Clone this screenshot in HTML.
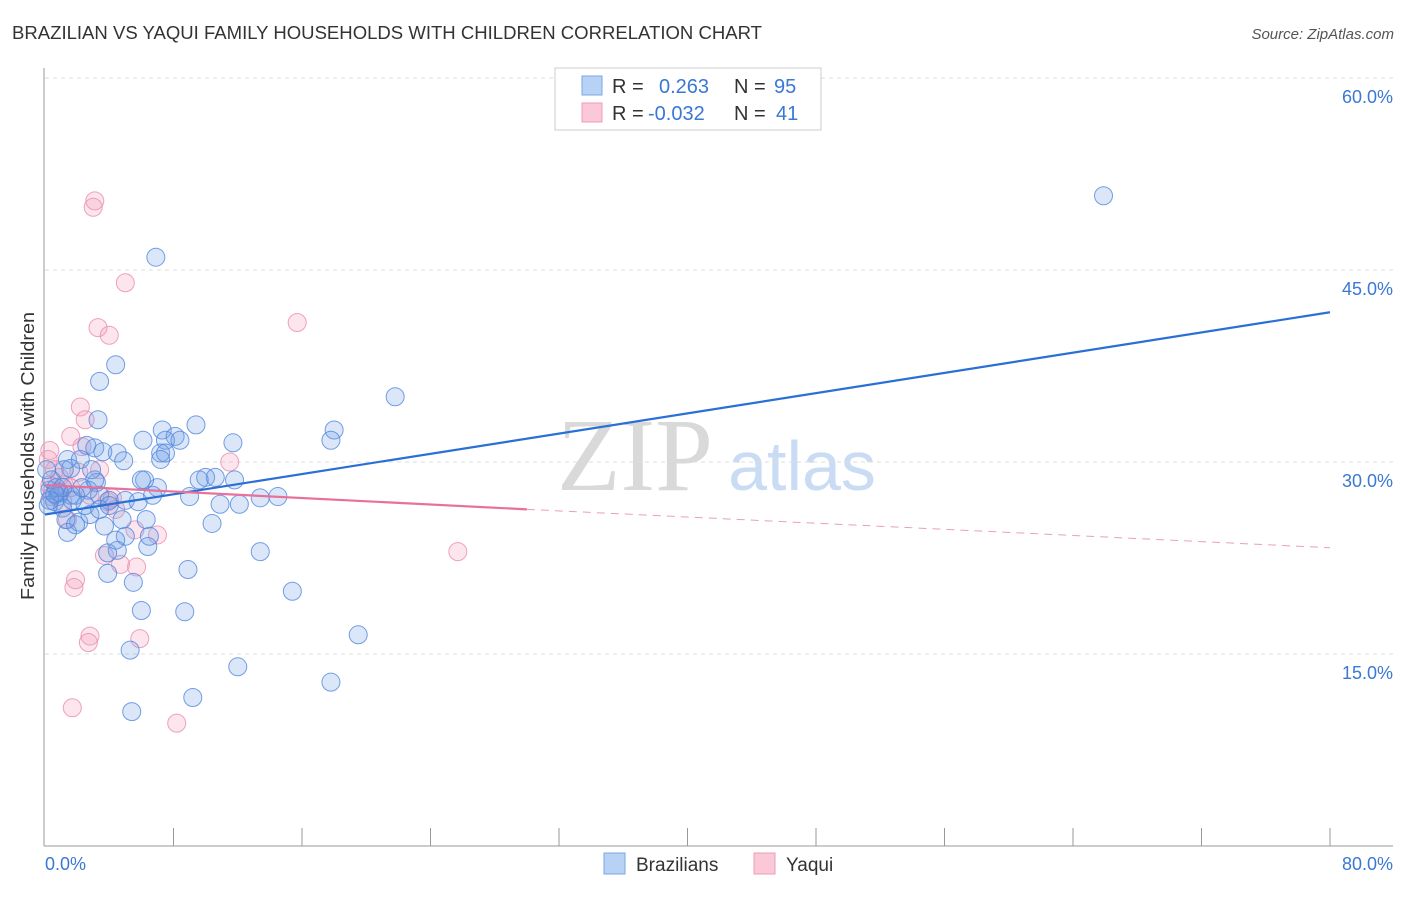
<!DOCTYPE html>
<html><head><meta charset="utf-8"><style>
body{margin:0;background:#fff;font-family:"Liberation Sans",sans-serif}
svg text{font-family:"Liberation Sans",sans-serif}
</style></head><body>
<svg id="c" width="1406" height="892">
<text x="12" y="39" font-size="18" fill="#333" textLength="750" lengthAdjust="spacingAndGlyphs">BRAZILIAN VS YAQUI FAMILY HOUSEHOLDS WITH CHILDREN CORRELATION CHART</text>
<text x="1394" y="39" font-size="15" fill="#555" font-style="italic" text-anchor="end">Source: ZipAtlas.com</text>
<text x="34" y="456" font-size="18" fill="#333" text-anchor="middle" textLength="288" lengthAdjust="spacingAndGlyphs" transform="rotate(-90 34 456)">Family Households with Children</text>
<g>
<text x="635" y="490" font-size="104" fill="#d9d9d9" text-anchor="middle" style="font-family:'Liberation Serif',serif">ZIP</text>
<text x="802" y="490" font-size="70" fill="#c9dcf3" text-anchor="middle">atlas</text>
</g>
<g id="grid"></g><g id="axes"></g><g id="marks"></g>
<g>
<rect x="555" y="68" width="266" height="62" fill="#fff" stroke="#ccc"/>
<rect x="582" y="76" width="20" height="19" fill="#b7d2f5" stroke="#7aa7e6"/>
<rect x="582" y="103" width="20" height="19" fill="#fbc8d8" stroke="#ee9bb6"/>
<text x="612" y="93" font-size="20" fill="#333">R =</text><text x="659" y="93" font-size="20" fill="#3a78d4">0.263</text>
<text x="734" y="93" font-size="20" fill="#333">N =</text><text x="774" y="93" font-size="20" fill="#3a78d4">95</text>
<text x="612" y="120" font-size="20" fill="#333">R =</text><text x="648" y="120" font-size="20" fill="#3a78d4">-0.032</text>
<text x="734" y="120" font-size="20" fill="#333">N =</text><text x="776" y="120" font-size="20" fill="#3a78d4">41</text>
</g>
<g>
<rect x="604" y="853" width="21" height="21" fill="#b7d2f5" stroke="#7aa7e6"/>
<text x="636" y="871" font-size="19" fill="#333">Brazilians</text>
<rect x="754" y="853" width="21" height="21" fill="#fbc8d8" stroke="#ee9bb6"/>
<text x="786" y="871" font-size="19" fill="#333">Yaqui</text>
</g>
</svg>
<script>
const yTicks=[15,30,45,60];
const yTickLabels=["15.0%","30.0%","45.0%","60.0%"];
const xEndLabels=["0.0%","80.0%"];
const bluePts=[[65.9,50.8],[6.9,46.0],[4.4,37.6],[3.4,36.3],[21.8,35.1],[3.3,33.3],[9.4,32.9],[7.3,32.5],[8.1,32.0],[6.1,31.7],[7.5,31.7],[11.7,31.5],[2.6,31.3],[3.1,31.1],[4.5,30.7],[3.6,30.8],[7.2,30.7],[7.5,30.7],[1.4,30.2],[4.9,30.1],[2.2,30.2],[1.6,29.5],[18.0,32.5],[17.8,31.7],[10.0,28.8],[10.6,28.8],[11.8,28.6],[7.0,28.0],[9.0,27.3],[3.2,28.4],[2.7,27.8],[1.6,27.4],[0.8,27.3],[0.3,27.8],[0.6,26.9],[1.1,26.4],[1.9,27.4],[3.4,27.4],[5.0,27.0],[5.8,26.9],[6.7,27.4],[10.9,26.7],[12.1,26.7],[13.4,27.2],[14.5,27.3],[10.4,25.2],[6.3,25.5],[3.7,25.0],[2.1,25.3],[1.4,24.5],[2.8,25.9],[0.2,26.6],[0.9,27.6],[5.0,24.2],[6.4,23.4],[4.5,23.1],[3.9,22.9],[13.4,23.0],[8.9,21.6],[3.9,21.3],[5.5,20.6],[15.4,19.9],[6.0,18.4],[8.7,18.3],[5.3,15.3],[19.5,16.5],[12.0,14.0],[17.8,12.8],[9.2,11.6],[5.4,10.5],[6.5,24.2],[4.0,27.0],[2.5,26.6],[0.4,28.6],[0.1,29.4],[8.4,31.7],[6.2,28.6],[4.8,25.5],[1.7,27.0],[3.1,28.6],[4.4,23.9],[1.2,29.4],[0.7,28.0],[2.3,28.0],[1.3,25.5],[6.0,28.6],[9.6,28.6],[7.2,30.2],[1.9,25.1],[0.3,27.0],[2.9,29.4],[3.4,26.3],[1.1,28.0],[0.6,27.5],[4.0,26.6]];
const pinkPts=[[3.1,50.4],[3.0,49.9],[5.0,44.0],[3.3,40.5],[4.0,39.9],[15.7,40.9],[2.2,34.3],[2.5,33.3],[1.6,32.0],[2.3,31.2],[0.3,30.9],[0.2,30.2],[11.5,30.0],[0.6,29.4],[0.9,28.8],[1.2,28.2],[0.3,28.2],[0.8,27.7],[1.6,28.0],[2.8,27.4],[3.9,26.9],[4.4,26.3],[1.4,25.5],[5.6,24.7],[7.0,24.3],[3.7,22.7],[4.7,22.0],[5.7,21.8],[1.9,20.8],[1.8,20.2],[2.8,16.4],[2.7,15.9],[5.9,16.2],[1.7,10.8],[8.2,9.6],[25.7,23.0],[1.1,26.9],[0.4,27.3],[3.4,29.4],[2.1,29.2],[4.2,27.2]];
const blueTrend=[[0,25.9],[80,41.7]];
const pinkTrendSolid=[[0,28.2],[30,26.3]];
const pinkTrendDashed=[[30,26.3],[80,23.3]];

const NS="http://www.w3.org/2000/svg";
const X0=45,X1=1330,Y0=846,PX_PER=192/15;
function xs(v){return X0+(X1-X0)*v/80;}
function ys(v){return Y0-v*PX_PER;}
function mk(tag,attrs,parent){const e=document.createElementNS(NS,tag);for(const k in attrs)e.setAttribute(k,attrs[k]);parent.appendChild(e);return e;}
const grid=document.getElementById('grid'),axes=document.getElementById('axes'),marks=document.getElementById('marks');
yTicks.forEach((t,i)=>{
 const l=mk('line',{x1:45,x2:1393,y1:ys(t),y2:ys(t),stroke:'#ddd','stroke-dasharray':'4,4'},grid);
 
 
 const tx=mk('text',{x:1393,y:ys(t)+25,'font-size':18,fill:'#3a78d4','text-anchor':'end'},axes);
 tx.textContent=yTickLabels[i];
 
 
});
const ya=mk('line',{x1:44,x2:44,y1:68,y2:846,stroke:'#999'},axes);


const xa=mk('line',{x1:44,x2:1393,y1:846,y2:846,stroke:'#999'},axes);


for(let v=8;v<=80;v+=8){
 const t=mk('line',{x1:xs(v),x2:xs(v),y1:828,y2:846,stroke:'#999'},axes);
 
 
}
const xl0=mk('text',{x:45,y:870,'font-size':18,fill:'#3a78d4'},axes);xl0.textContent=xEndLabels[0];


const xl1=mk('text',{x:1393,y:870,'font-size':18,fill:'#3a78d4','text-anchor':'end'},axes);xl1.textContent=xEndLabels[1];


pinkPts.forEach(p=>{
 const c=mk('circle',{cx:xs(p[0]),cy:ys(p[1]),r:9,fill:'rgba(244,150,182,0.25)',stroke:'rgba(234,140,175,0.8)','stroke-width':1},marks);
 
 
});
bluePts.forEach(p=>{
 const c=mk('circle',{cx:xs(p[0]),cy:ys(p[1]),r:9,fill:'rgba(110,160,232,0.25)',stroke:'rgba(80,135,220,0.8)','stroke-width':1},marks);
 
 
});
const bt=mk('line',{x1:xs(blueTrend[0][0]),y1:ys(blueTrend[0][1]),x2:xs(blueTrend[1][0]),y2:ys(blueTrend[1][1]),stroke:'#2a6fd6','stroke-width':2.2},marks);


const pt=mk('line',{x1:xs(pinkTrendSolid[0][0]),y1:ys(pinkTrendSolid[0][1]),x2:xs(pinkTrendSolid[1][0]),y2:ys(pinkTrendSolid[1][1]),stroke:'#e8709a','stroke-width':2.2},marks);


const pd=mk('line',{x1:xs(pinkTrendDashed[0][0]),y1:ys(pinkTrendDashed[0][1]),x2:xs(pinkTrendDashed[1][0]),y2:ys(pinkTrendDashed[1][1]),stroke:'#e8a0b8','stroke-width':1,'stroke-dasharray':'8,6'},marks);


</script>
</body></html>
